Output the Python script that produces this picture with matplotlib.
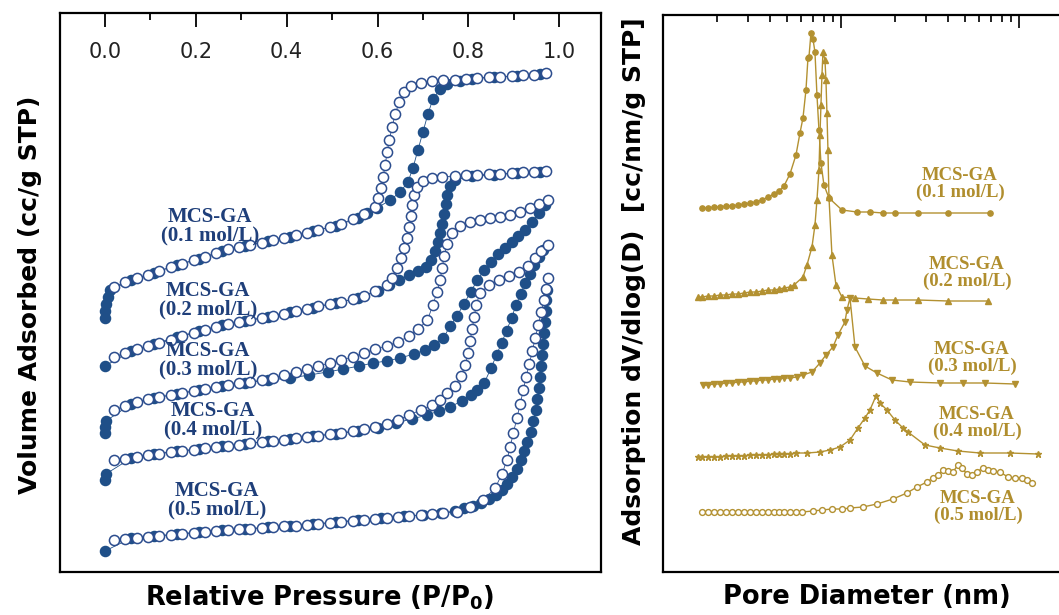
import numpy as np
import matplotlib
matplotlib.use("Agg")
import matplotlib.pyplot as plt
from matplotlib.ticker import MultipleLocator, FormatStrFormatter, LogLocator, NullFormatter

plt.rcParams["font.family"] = ["DejaVu Sans"]
plt.rcParams["mathtext.fontset"] = "custom"
plt.rcParams["mathtext.rm"] = "DejaVu Sans"
plt.rcParams["mathtext.bf"] = "DejaVu Sans:bold"

# ---- left panel: N2 isotherms (V in arbitrary units, curves offset) ----
p1_ads = [0.001, 0.001, 0.003, 0.006, 0.012, 0.058, 0.108, 0.158, 0.208, 0.258, 0.308, 0.358, 0.408, 0.458,
          0.508, 0.558, 0.577, 0.599, 0.628, 0.650, 0.667, 0.678, 0.689, 0.700, 0.711, 0.722, 0.738, 0.753,
          0.782, 0.807, 0.857, 0.907, 0.957]
v1_ads = [255, 262, 269, 276, 283, 293, 300, 308, 314, 322, 327, 332, 336, 342, 347, 355, 360, 365, 373, 381,
          391, 405, 423, 441, 459, 474, 484, 489, 492, 494, 496, 497, 499]
p1_des = [0.02, 0.045, 0.07, 0.095, 0.12, 0.145, 0.17, 0.195, 0.22, 0.245, 0.27, 0.295, 0.32, 0.345, 0.37,
          0.395, 0.42, 0.445, 0.47, 0.495, 0.52, 0.545, 0.57, 0.595, 0.601, 0.608, 0.612, 0.617, 0.621, 0.626,
          0.632, 0.639, 0.648, 0.659, 0.674, 0.696, 0.720, 0.744, 0.77, 0.795, 0.82, 0.845, 0.87, 0.895, 0.92,
          0.945, 0.97]
v1_des = [286, 291, 295, 298, 302, 306, 309, 313, 316, 320, 324, 326, 328, 330, 333, 335, 338, 340, 343, 346,
          349, 354, 359, 366, 375, 385, 396, 408, 421, 433, 446, 459, 471, 481, 487, 490, 492, 493, 493, 494,
          495, 496, 496, 497, 498, 498, 500]

p2_ads = [0.0, 0.058, 0.108, 0.158, 0.208, 0.258, 0.308, 0.358, 0.408, 0.458, 0.508, 0.558, 0.6, 0.625, 0.648,
          0.67, 0.69, 0.707, 0.718, 0.727, 0.733, 0.738, 0.742, 0.747, 0.751, 0.753, 0.760, 0.771, 0.807, 0.857,
          0.907, 0.957]
v2_ads = [207, 222, 229, 236, 242, 248, 252, 256, 261, 265, 270, 275, 282, 288, 293, 298, 302, 306, 313, 322,
          331, 340, 349, 359, 369, 378, 387, 393, 397, 398, 400, 401]
p2_des = [0.02, 0.045, 0.07, 0.095, 0.12, 0.145, 0.17, 0.195, 0.22, 0.245, 0.27, 0.295, 0.32, 0.345, 0.37,
          0.395, 0.42, 0.445, 0.47, 0.495, 0.52, 0.545, 0.57, 0.595, 0.62, 0.632, 0.643, 0.652, 0.659, 0.665,
          0.670, 0.674, 0.676, 0.680, 0.687, 0.700, 0.720, 0.742, 0.77, 0.795, 0.82, 0.845, 0.87, 0.895, 0.92,
          0.945, 0.97]
v2_des = [216, 220, 224, 227, 230, 233, 237, 240, 243, 246, 249, 251, 253, 255, 257, 259, 262, 264, 267, 269,
          271, 274, 277, 282, 288, 295, 305, 315, 325, 335, 346, 357, 368, 378, 386, 392, 395, 396, 397, 398,
          398, 399, 399, 400, 401, 401, 402]

p3_ads = [0.0, 0.0, 0.002, 0.058, 0.108, 0.158, 0.208, 0.258, 0.308, 0.358, 0.408, 0.45, 0.49, 0.525, 0.56,
          0.59, 0.62, 0.65, 0.68, 0.705, 0.725, 0.745, 0.76, 0.775, 0.79, 0.805, 0.82, 0.835, 0.85, 0.865, 0.88,
          0.895, 0.91, 0.925, 0.94, 0.955, 0.968]
v3_ads = [140, 146, 152, 169, 175, 179, 183, 187, 190, 193, 195, 198, 201, 204, 207, 210, 212, 215, 219, 223,
          228, 235, 247, 257, 269, 281, 293, 303, 311, 319, 325, 331, 337, 343, 351, 360, 368]
p3_des = [0.02, 0.045, 0.07, 0.095, 0.12, 0.145, 0.17, 0.195, 0.22, 0.245, 0.27, 0.295, 0.32, 0.345, 0.37,
          0.395, 0.42, 0.445, 0.47, 0.495, 0.52, 0.545, 0.57, 0.595, 0.62, 0.645, 0.67, 0.69, 0.71, 0.722,
          0.731, 0.738, 0.742, 0.747, 0.753, 0.764, 0.782, 0.804, 0.826, 0.848, 0.870, 0.892, 0.914, 0.936,
          0.956, 0.976]
v3_des = [163, 167, 171, 174, 176, 178, 180, 182, 184, 186, 188, 190, 191, 193, 195, 198, 201, 204, 207, 210,
          213, 216, 220, 224, 227, 231, 237, 244, 253, 268, 281, 293, 305, 317, 329, 340, 347, 351, 353, 355,
          356, 358, 361, 365, 369, 373]

p4_ads = [0.0, 0.002, 0.058, 0.108, 0.158, 0.208, 0.258, 0.308, 0.358, 0.408, 0.458, 0.508, 0.558, 0.6, 0.64,
          0.675, 0.71, 0.735, 0.76, 0.785, 0.805, 0.82, 0.835, 0.85, 0.862, 0.873, 0.884, 0.895, 0.905, 0.915,
          0.925, 0.935, 0.945, 0.955, 0.965]
v4_ads = [93, 99, 115, 119, 122, 124, 127, 129, 132, 134, 137, 139, 142, 145, 150, 154, 158, 162, 166, 172,
          178, 183, 190, 205, 218, 230, 242, 255, 268, 279, 290, 299, 308, 316, 323]
p4_des = [0.02, 0.045, 0.07, 0.095, 0.12, 0.145, 0.17, 0.195, 0.22, 0.245, 0.27, 0.295, 0.32, 0.345, 0.37,
          0.395, 0.42, 0.445, 0.47, 0.495, 0.52, 0.545, 0.57, 0.595, 0.62, 0.645, 0.67, 0.695, 0.72, 0.738,
          0.753, 0.771, 0.784, 0.793, 0.800, 0.804, 0.808, 0.813, 0.817, 0.826, 0.846, 0.868, 0.890, 0.912,
          0.932, 0.947, 0.960, 0.976]
v4_des = [113, 114, 116, 118, 119, 121, 122, 123, 125, 126, 127, 128, 130, 131, 132, 133, 135, 136, 137, 139,
          140, 142, 144, 146, 149, 153, 158, 163, 168, 173, 180, 187, 197, 208, 220, 232, 244, 256, 268, 280,
          288, 293, 297, 301, 307, 315, 322, 328]

p5_ads = [0.0, 0.058, 0.108, 0.158, 0.208, 0.258, 0.308, 0.358, 0.408, 0.458, 0.508, 0.558, 0.608, 0.658, 0.7,
          0.74, 0.77, 0.79, 0.81, 0.828, 0.845, 0.86, 0.873, 0.885, 0.896, 0.906, 0.915, 0.923, 0.93, 0.937,
          0.943, 0.948, 0.952, 0.955, 0.958, 0.96, 0.962, 0.964, 0.966, 0.968, 0.97, 0.972, 0.973]
v5_ads = [22, 35, 37, 39, 41, 43, 44, 46, 47, 49, 51, 53, 55, 57, 58, 60, 62, 65, 67, 70, 74, 78, 83, 89, 96,
          104, 113, 122, 131, 141, 152, 163, 174, 185, 196, 207, 218, 229, 240, 251, 262, 273, 283]
p5_des = [0.02, 0.045, 0.07, 0.095, 0.12, 0.145, 0.17, 0.195, 0.22, 0.245, 0.27, 0.295, 0.32, 0.345, 0.37,
          0.395, 0.42, 0.445, 0.47, 0.495, 0.52, 0.545, 0.57, 0.595, 0.62, 0.645, 0.67, 0.695, 0.72, 0.745,
          0.775, 0.804, 0.833, 0.859, 0.874, 0.885, 0.892, 0.899, 0.907, 0.914, 0.921, 0.927, 0.934, 0.941,
          0.947, 0.954, 0.960, 0.967, 0.971, 0.976]
v5_des = [33, 34, 35, 36, 37, 38, 39, 40, 41, 42, 43, 44, 44, 45, 46, 47, 47, 48, 49, 50, 51, 52, 53, 54, 55,
          56, 57, 58, 59, 60, 61, 66, 73, 85, 99, 113, 126, 140, 155, 169, 183, 196, 209, 222, 235, 248, 261,
          273, 284, 295]

iso_labels = ["MCS-GA\n(0.1 mol/L)", "MCS-GA\n(0.2 mol/L)", "MCS-GA\n(0.3 mol/L)",
              "MCS-GA\n(0.4 mol/L)", "MCS-GA\n(0.5 mol/L)"]
iso_label_p = [0.231, 0.227, 0.227, 0.238, 0.247]
iso_label_v = [347, 273, 213, 153, 73]

# ---- right panel: pore size distributions (D in nm, offset curves) ----
d1 = [1.656, 1.789, 1.934, 2.090, 2.259, 2.441, 2.638, 2.851, 3.082, 3.331, 3.600, 3.890, 4.204, 4.484, 4.784,
      5.170, 5.588, 5.885, 6.117, 6.359, 6.526, 6.611, 6.784, 6.962, 7.144, 7.331, 7.523, 7.720, 8.026, 8.562,
      10.13, 12.30, 14.55, 17.22, 20.11, 27.08, 39.92, 68.73]
q1 = [365, 365, 366, 366, 367, 367, 368, 369, 370, 371, 373, 376, 379, 382, 387, 399, 418, 440, 455, 483, 515,
      516, 540, 534, 521, 478, 443, 410, 388, 375, 363, 361, 361, 360, 360, 360, 360, 360]

d2 = [1.573, 1.656, 1.789, 1.934, 2.090, 2.259, 2.441, 2.638, 2.851, 3.082, 3.331, 3.600, 3.890, 4.204, 4.484,
      4.784, 5.170, 5.445, 6.117, 6.442, 6.873, 7.144, 7.331, 7.523, 7.621, 7.720, 7.821, 7.923, 8.130, 8.236,
      8.343, 8.452, 8.562, 8.900, 9.374, 10.13, 11.99, 14.18, 17.22, 20.11, 27.08, 39.92, 66.96]
q2 = [276, 276, 277, 277, 278, 278, 279, 279, 280, 281, 281, 282, 283, 283, 284, 285, 286, 288, 296, 308, 326,
      348, 373, 403, 438, 468, 498, 521, 513, 493, 460, 423, 376, 318, 288, 276, 275, 274, 273, 273, 273, 272,
      272]

d3 = [1.678, 1.789, 1.934, 2.090, 2.259, 2.441, 2.638, 2.851, 3.082, 3.331, 3.600, 3.890, 4.204, 4.484, 4.784,
      5.170, 5.660, 6.117, 6.873, 7.621, 8.236, 9.017, 9.619, 10.53, 10.81, 11.24, 11.99, 13.64, 15.93, 19.34,
      24.42, 35.99, 48.47, 64.42, 94.95]
q3 = [188, 188, 189, 189, 190, 190, 191, 191, 192, 192, 193, 193, 194, 194, 195, 195, 196, 198, 201, 210, 218,
      226, 238, 251, 263, 275, 226, 207, 200, 193, 191, 190, 190, 190, 189]

d4 = [1.573, 1.656, 1.789, 1.934, 2.090, 2.259, 2.441, 2.638, 2.851, 3.082, 3.331, 3.600, 3.890, 4.204, 4.484,
      4.784, 5.170, 5.588, 6.442, 7.621, 8.673, 9.872, 11.24, 12.46, 13.64, 14.55, 15.73, 16.56, 18.13, 20.11,
      22.30, 23.79, 29.65, 35.99, 45.43, 60.38, 89.03, 127.9]
q4 = [116, 116, 116, 116, 116, 117, 117, 117, 117, 118, 118, 118, 118, 119, 119, 119, 119, 120, 120, 121, 123,
      126, 133, 145, 155, 163, 177, 170, 163, 153, 145, 141, 128, 125, 122, 120, 120, 119]

d5 = [1.656, 1.789, 1.934, 2.090, 2.259, 2.441, 2.638, 2.851, 3.082, 3.331, 3.600, 3.890, 4.204, 4.484, 4.784,
      5.170, 5.588, 6.038, 6.962, 7.821, 8.900, 10.13, 11.24, 13.29, 15.93, 19.60, 23.49, 26.73, 30.42, 32.88,
      35.07, 37.41, 39.92, 42.58, 45.43, 47.84, 51.05, 54.45, 58.08, 62.78, 66.96, 71.44, 78.22, 86.76, 94.95,
      104.0, 110.9, 118.3]
q5 = [61, 61, 61, 61, 61, 61, 61, 61, 61, 61, 61, 61, 61, 61, 61, 61, 61, 61, 62, 63, 64, 64, 65, 66, 69, 74,
      80, 86, 91, 95, 98, 103, 102, 101, 108, 105, 99, 98, 101, 105, 103, 102, 101, 96, 95, 95, 93, 90]

psd_labels = ["MCS-GA\n(0.1 mol/L)", "MCS-GA\n(0.2 mol/L)", "MCS-GA\n(0.3 mol/L)",
              "MCS-GA\n(0.4 mol/L)", "MCS-GA\n(0.5 mol/L)"]
psd_label_d = [46.6, 51.0, 54.5, 58.1, 58.9]
psd_label_q = [389, 300, 215, 150, 66]

blue_fill = "#1f4f88"
blue_edge = "#2c4d8e"
blue_text = "#1f3f7a"
gold = "#b39131"
gold_text = "#b08e2e"

fig = plt.figure(figsize=(10.59, 6.15), dpi=100)
ax1 = fig.add_axes([60 / 1059, 43 / 615, 541 / 1059, 559 / 615])
ax2 = fig.add_axes([663 / 1059, 43 / 615, 396 / 1059, 557 / 615])

# left panel
isotherms = [(p1_ads, v1_ads, p1_des, v1_des), (p2_ads, v2_ads, p2_des, v2_des),
             (p3_ads, v3_ads, p3_des, v3_des), (p4_ads, v4_ads, p4_des, v4_des),
             (p5_ads, v5_ads, p5_des, v5_des)]
for pa, va, pd, vd in isotherms:
    ax1.plot(pa, va, "-o", color=blue_fill, lw=0.6, ms=7.3, mfc=blue_fill, mec=blue_fill, zorder=2)
    ax1.plot(pd, vd, "-o", color=blue_edge, lw=0.6, ms=7.3, mfc="white", mec=blue_edge, mew=1.1, zorder=3)

for lab, p, v in zip(iso_labels, iso_label_p, iso_label_v):
    ax1.text(p, v, lab, ha="center", va="center", fontsize=15, fontweight="bold",
             family="Liberation Serif", color=blue_text, linespacing=0.88, zorder=4)

ax1.set_xlim(-0.099, 1.092)
ax1.set_ylim(1, 560)
ax1.set_yticks([])
ax1.xaxis.set_major_locator(MultipleLocator(0.2))
ax1.xaxis.set_minor_locator(MultipleLocator(0.1))
ax1.xaxis.set_major_formatter(FormatStrFormatter("%.1f"))
ax1.tick_params(axis="x", which="both", direction="in", top=True, bottom=False,
                labeltop=True, labelbottom=False, width=1.3)
ax1.tick_params(axis="x", which="major", length=10, pad=-35, labelsize=15, labelcolor="#222222")
ax1.tick_params(axis="x", which="minor", length=5)
for s in ax1.spines.values():
    s.set_linewidth(1.6)

# right panel
ax2.plot(d1, q1, "-o", color=gold, lw=1.0, ms=3.8, mfc=gold, mec=gold)
ax2.plot(d2, q2, "-^", color=gold, lw=1.0, ms=4.5, mfc=gold, mec=gold)
ax2.plot(d3, q3, "-v", color=gold, lw=1.0, ms=4.5, mfc=gold, mec=gold)
ax2.plot(d4, q4, "-*", color=gold, lw=1.0, ms=5, mfc=gold, mec=gold)
ax2.plot(d5, q5, "-o", color=gold, lw=1.0, ms=4.2, mfc="white", mec=gold, mew=1.0)

for lab, d, q in zip(psd_labels, psd_label_d, psd_label_q):
    ax2.text(d, q, lab, ha="center", va="center", fontsize=13.5, fontweight="bold",
             family="Liberation Serif", color=gold_text, linespacing=1.0)

ax2.set_xscale("log")
ax2.set_xlim(1, 168)
ax2.set_ylim(1, 558)
ax2.set_yticks([])
ax2.xaxis.set_major_locator(LogLocator(base=10))
ax2.xaxis.set_minor_locator(LogLocator(base=10, subs=np.arange(2, 10)))
ax2.xaxis.set_major_formatter(NullFormatter())
ax2.xaxis.set_minor_formatter(NullFormatter())
ax2.tick_params(axis="x", which="both", direction="in", top=True, bottom=False,
                labeltop=False, labelbottom=False, width=1.2)
ax2.tick_params(axis="x", which="major", length=9)
ax2.tick_params(axis="x", which="minor", length=5)
ax2.spines["right"].set_visible(False)
for s in ax2.spines.values():
    s.set_linewidth(1.6)

# axis titles
fig.text(30 / 1059, 1 - 295 / 615, "Volume Adsorbed (cc/g STP)", rotation=90, ha="center", va="center",
         fontsize=18, fontweight="bold")
fig.text(319 / 1059, 1 - 598 / 615, r"Relative Pressure (P/P$_\mathbf{0}$)", ha="center", va="center",
         fontsize=18.5, fontweight="bold")
fig.text(634 / 1059, 1 - 281 / 615, "Adsorption dV/dlog(D)  [cc/nm/g STP]", rotation=90, ha="center",
         va="center", fontsize=18, fontweight="bold")
fig.text(867 / 1059, 1 - 597 / 615, "Pore Diameter (nm)", ha="center", va="center",
         fontsize=18.5, fontweight="bold")

fig.savefig("out.png", dpi=100)
